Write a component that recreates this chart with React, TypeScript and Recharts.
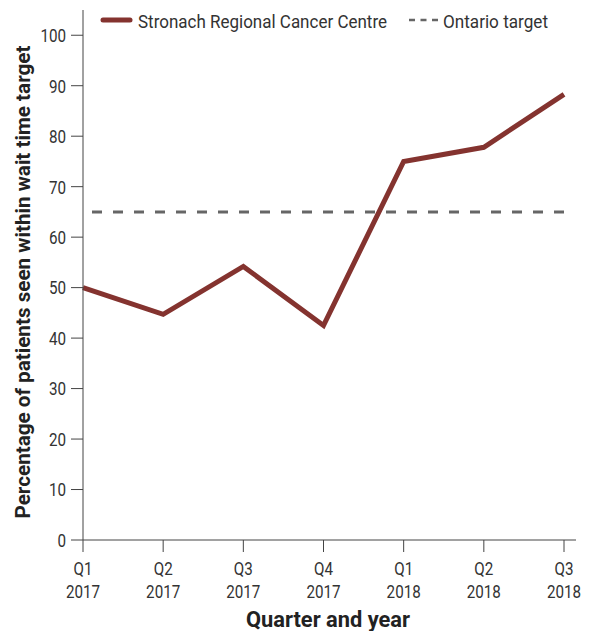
import React from 'react';
import { LineChart, Line, XAxis, YAxis } from 'recharts';

const quarters = ['Q1', 'Q2', 'Q3', 'Q4', 'Q1', 'Q2', 'Q3'];
const years = ['2017', '2017', '2017', '2017', '2018', '2018', '2018'];
const stronach = [50, 44.7, 54.2, 42.5, 75, 77.8, 88.3];
const ontarioTarget = [65, 65, 65, 65, 65, 65, 65];
const yTicks = [0, 10, 20, 30, 40, 50, 60, 70, 80, 90, 100];

const FONT = 'Roboto, "Liberation Sans", sans-serif';
const RED = '#84332F';
const GREY = '#666666';
const AXIS = '#444444';
const TEXT = '#333333';

const data = quarters.map((q, i) => ({
  key: `${q} ${years[i]}`,
  stronach: stronach[i],
  target: ontarioTarget[i],
}));

// the original uses a condensed face, so squeeze Roboto horizontally
const SQUEEZE = 0.8;

const YTick = (props: any) => {
  const { x, y, payload } = props;
  return (
    <g transform={`translate(${x},${y}) scale(${SQUEEZE},1)`}>
      <text x={0} y={0} dy="0.36em" textAnchor="end" fill={TEXT} fontFamily={FONT} fontSize={19}>
        {payload.value}
      </text>
    </g>
  );
};

// two-line tick: quarter over year
const QuarterTick = (props: any) => {
  const { x, index } = props;
  return (
    <g transform={`translate(${x},0) scale(${SQUEEZE},1)`}>
      <text textAnchor="middle" fill={TEXT} fontFamily={FONT} fontSize={19}>
        <tspan x={0} y={575}>{quarters[index]}</tspan>
        <tspan x={0} y={598}>{years[index]}</tspan>
      </text>
    </g>
  );
};

const XTitle = () => (
  <text
    x={328}
    y={627}
    textAnchor="middle"
    fontFamily={FONT}
    fontSize={22}
    fontWeight={700}
    fill="#222"
    textLength={164}
    lengthAdjust="spacingAndGlyphs"
  >
    Quarter and year
  </text>
);

const YTitle = () => (
  <text
    x={0}
    y={0}
    transform="translate(30,282) rotate(-90)"
    textAnchor="middle"
    fontFamily={FONT}
    fontSize={21}
    fontWeight={700}
    fill="#222"
    textLength={473}
    lengthAdjust="spacingAndGlyphs"
  >
    Percentage of patients seen within wait time target
  </text>
);

const LegendBar = () => (
  <svg width={590} height={40} style={{ position: 'absolute', left: 0, top: 0 }}>
    <line x1={103} y1={20} x2={130} y2={20} stroke={RED} strokeWidth={5} strokeLinecap="round" />
    <text
      x={138}
      y={28}
      fontFamily={FONT}
      fontSize={19}
      fill={TEXT}
      textLength={249}
      lengthAdjust="spacingAndGlyphs"
    >
      Stronach Regional Cancer Centre
    </text>
    <line x1={409} y1={20} x2={438} y2={20} stroke={GREY} strokeWidth={2.5} strokeDasharray="6 5.5" />
    <text
      x={443}
      y={28}
      fontFamily={FONT}
      fontSize={19}
      fill={TEXT}
      textLength={105}
      lengthAdjust="spacingAndGlyphs"
    >
      Ontario target
    </text>
  </svg>
);

export default function App() {
  return (
    <div style={{ position: 'absolute', left: 0, top: 0, width: 590, height: 631 }}>
      <LineChart
        width={590}
        height={631}
        data={data}
        margin={{ top: 10, right: 14, bottom: 0, left: 0 }}
      >
        <XAxis
          dataKey="key"
          interval={0}
          height={91}
          tick={<QuarterTick />}
          tickSize={12}
          stroke={AXIS}
          padding={{ left: 0, right: 12 }}
          label={<XTitle />}
        />
        <YAxis
          domain={[0, 105]}
          ticks={yTicks}
          width={83}
          tickSize={12}
          tickMargin={5}
          stroke={AXIS}
          tick={<YTick />}
          label={<YTitle />}
        />
        <Line
          dataKey="target"
          stroke={GREY}
          strokeWidth={3}
          strokeDasharray="10 11"
          strokeDashoffset={-9}
          dot={false}
          activeDot={false}
          isAnimationActive={false}
        />
        <Line
          dataKey="stronach"
          stroke={RED}
          strokeWidth={5}
          dot={false}
          activeDot={false}
          isAnimationActive={false}
        />
      </LineChart>
      <LegendBar />
    </div>
  );
}
